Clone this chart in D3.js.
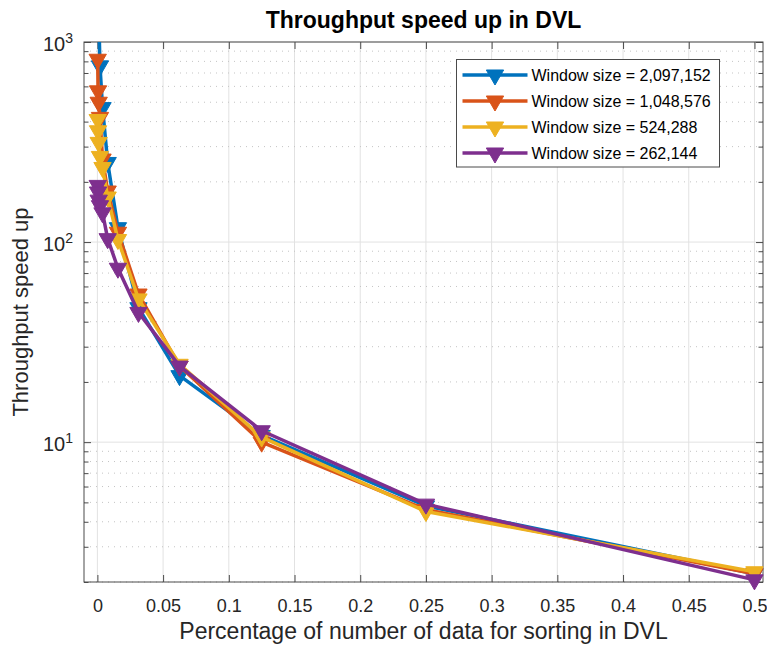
<!DOCTYPE html>
<html>
<head>
<meta charset="utf-8">
<script src="https://cdn.jsdelivr.net/npm/d3@7"></script>
<style>
  body { margin: 0; background: #fff; }
  text { font-family: "Liberation Sans", Arial, Helvetica, sans-serif; }
</style>
</head>
<body>
<svg id="chart" width="767" height="646"></svg>
<script>
// fraction of the data sorted in DVL (same x for every window size)
var xValues = [0.000244140625, 0.00048828125, 0.0009765625, 0.001953125, 0.00390625,
  0.0078125, 0.015625, 0.03125, 0.0625, 0.125, 0.25, 0.5];

// throughput speed up (null = not on the chart)
var speedup2097152 = [null, null, 1400, 760, 470, 250, 118, 47, 21.5, 10.8, 4.8, 2.2];
var speedup1048576 = [820, 570, 500, 420, 260, 180, 112, 55, 24, 10, 4.6, 2.2];
var speedup524288  = [410, 360, 315, 268, 236, 168, 103, 52, 24.5, 10.6, 4.5, 2.25];
var speedup262144  = [192, 178, 162, 152, 140, 104, 74, 44.5, 24, 11.4, 4.9, 2.05];

var seriesNames = ["Window size = 2,097,152", "Window size = 1,048,576",
  "Window size = 524,288", "Window size = 262,144"];
var seriesColors = ["#0072BD", "#D95319", "#EDB120", "#7E2F8E"];

var xTicks = [0, 0.05, 0.1, 0.15, 0.2, 0.25, 0.3, 0.35, 0.4, 0.45, 0.5];
var yTicks = [10, 100, 1000];

var allSeries = [speedup2097152, speedup1048576, speedup524288, speedup262144].map(function(vals, i) {
  return {
    name: seriesNames[i],
    color: seriesColors[i],
    points: xValues.map(function(xv, j) { return {x: xv, y: vals[j]}; })
      .filter(function(d) { return d.y != null; })
  };
});

var plotLeft = 84, plotTop = 42, plotRight = 763, plotBottom = 582;
var plotW = plotRight - plotLeft, plotH = plotBottom - plotTop;
var axisColor = "#4a4a4a";
var textColor = "#262626";
var fontFam = '"Liberation Sans", Arial, Helvetica, sans-serif';

var svg = d3.select("#chart");
svg.append("rect").attr("width", 767).attr("height", 646).attr("fill", "#fff");

svg.append("defs").append("clipPath").attr("id", "plot-clip")
  .append("rect").attr("width", plotW).attr("height", plotH);

var g = svg.append("g").attr("transform", "translate(" + plotLeft + "," + plotTop + ")");

var x = d3.scaleLinear().domain([-0.0102, 0.5065]).range([0, plotW]);
var y = d3.scaleLog().domain([2, 1000]).range([plotH, 0]);

// minor ticks of the log axis: 2..9 in every decade
var yMinor = [];
[1, 10, 100].forEach(function(dec) {
  for (var k = 2; k <= 9; k++) {
    var v = k * dec;
    if (v >= 2 && v <= 1000) yMinor.push(v);
  }
});

// grid
var grid = g.append("g");
grid.selectAll(".vgrid").data(xTicks).join("line")
  .attr("x1", x).attr("x2", x).attr("y1", 0).attr("y2", plotH)
  .attr("stroke", "#e2e2e2").attr("stroke-width", 1);
grid.selectAll(".mgrid").data(yMinor).join("line")
  .attr("x1", 0).attr("x2", plotW).attr("y1", y).attr("y2", y)
  .attr("stroke", "#c4c4c4").attr("stroke-width", 1).attr("stroke-dasharray", "1,5");
grid.selectAll(".hgrid").data(yTicks).join("line")
  .attr("x1", 0).attr("x2", plotW).attr("y1", y).attr("y2", y)
  .attr("stroke", "#e2e2e2").attr("stroke-width", 1);

// axes (ticks pointing inward, box on)
function styleAxis(sel) {
  sel.attr("color", axisColor).attr("font-family", fontFam).attr("font-size", 18);
  sel.selectAll("text").attr("fill", textColor);
  sel.select(".domain").remove();
}

g.append("g").attr("transform", "translate(0," + plotH + ")")
  .call(d3.axisBottom(x).tickValues(xTicks).tickSize(-7).tickPadding(17).tickFormat(d3.format("")))
  .call(styleAxis);
g.append("g")
  .call(d3.axisTop(x).tickValues(xTicks).tickSize(-7).tickFormat(""))
  .call(styleAxis);

var yAxisG = g.append("g")
  .call(d3.axisLeft(y).tickValues(yTicks).tickSize(-7).tickPadding(11))
  .call(styleAxis);
yAxisG.selectAll(".tick text").attr("dy", "0.4em").attr("font-size", 20).each(function(d) {
  var t = d3.select(this);
  t.text(null);
  t.append("tspan").text("10");
  t.append("tspan").attr("dy", "-0.55em").attr("font-size", 14).text(Math.round(Math.log10(d)));
});
g.append("g")
  .call(d3.axisLeft(y).tickValues(yMinor).tickSize(-4.5).tickFormat(""))
  .call(styleAxis);
g.append("g").attr("transform", "translate(" + plotW + ",0)")
  .call(d3.axisRight(y).tickValues(yTicks).tickSize(-7).tickFormat(""))
  .call(styleAxis);
g.append("g").attr("transform", "translate(" + plotW + ",0)")
  .call(d3.axisRight(y).tickValues(yMinor).tickSize(-4.5).tickFormat(""))
  .call(styleAxis);

g.append("rect")
  .attr("width", plotW).attr("height", plotH)
  .attr("fill", "none").attr("stroke", axisColor).attr("stroke-width", 1);

// data
var line = d3.line().x(function(d) { return x(d.x); }).y(function(d) { return y(d.y); });
var tri = d3.symbol().type(d3.symbolTriangle).size(130);

allSeries.forEach(function(s) {
  var sg = g.append("g");
  sg.append("path")
    .attr("d", line(s.points))
    .attr("clip-path", "url(#plot-clip)")
    .attr("fill", "none").attr("stroke", s.color)
    .attr("stroke-width", 3.5).attr("stroke-linejoin", "round");
  sg.selectAll("path.mark")
    .data(s.points.filter(function(d) { return d.y <= 1000; }))
    .join("path")
      .attr("class", "mark")
      .attr("d", tri)
      .attr("transform", function(d) { return "translate(" + x(d.x) + "," + y(d.y) + ") rotate(180)"; })
      .attr("fill", s.color).attr("stroke", s.color).attr("stroke-width", 1);
});

// labels
svg.append("text")
  .attr("x", plotLeft + plotW / 2).attr("y", 28)
  .attr("text-anchor", "middle").attr("font-size", 23).attr("font-weight", "bold")
  .attr("fill", "#000")
  .text("Throughput speed up in DVL");

svg.append("text")
  .attr("x", plotLeft + plotW / 2).attr("y", 639)
  .attr("text-anchor", "middle").attr("font-size", 23).attr("fill", textColor)
  .text("Percentage of number of data for sorting in DVL");

svg.append("text")
  .attr("transform", "translate(28," + (plotTop + plotH / 2) + ") rotate(-90)")
  .attr("text-anchor", "middle").attr("font-size", 22).attr("fill", textColor)
  .text("Throughput speed up");

// legend
var legend = svg.append("g").attr("transform", "translate(456.5,59.5)");
legend.append("rect")
  .attr("width", 263).attr("height", 107.5)
  .attr("fill", "#fff").attr("stroke", axisColor).attr("stroke-width", 1);

var rows = legend.selectAll("g.row").data(allSeries).join("g")
  .attr("class", "row")
  .attr("transform", function(d, i) { return "translate(0," + (15.5 + i * 26) + ")"; });
rows.append("line")
  .attr("x1", 6).attr("x2", 71)
  .attr("stroke", function(d) { return d.color; }).attr("stroke-width", 3.5);
rows.append("path")
  .attr("d", tri)
  .attr("transform", "translate(38.5,0) rotate(180)")
  .attr("fill", function(d) { return d.color; })
  .attr("stroke", function(d) { return d.color; });
rows.append("text")
  .attr("x", 75).attr("dy", "0.36em")
  .attr("font-size", 16).attr("fill", "#000")
  .text(function(d) { return d.name; });
</script>
</body>
</html>
